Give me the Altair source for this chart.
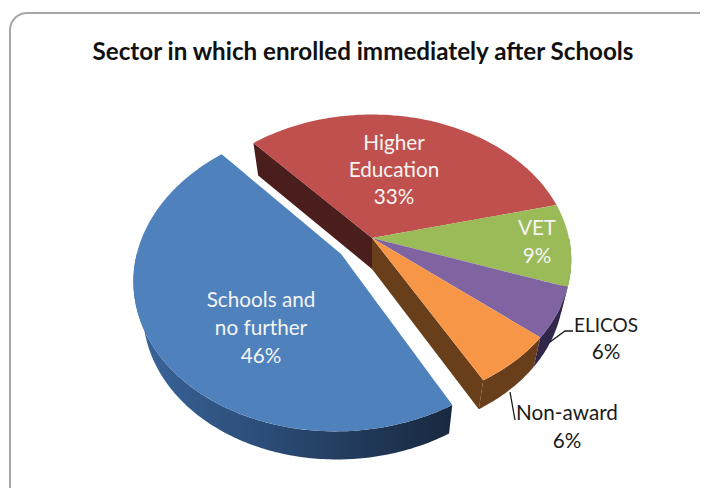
import math
import altair as alt
import pandas as pd

# ---- values
sectors = ["Higher Education", "VET", "ELICOS", "Non-award", "Schools and no further"]
shares = [32.8, 9.2, 5.6, 5.9, 46.5]
top_colors = ["#C0504D", "#9BBB59", "#8064A2", "#F79646", "#4F81BD"]
wall_colors = ["#4A1E1C", "#55682F", "#32274A", "#693E1A", "#2A4A73"]
start_angle = 228.0
exploded = "Schools and no further"
explode_by = 0.19
exploded_scale = 1.02

title_text = "Sector in which enrolled immediately after Schools"
inside_x = [394, 394, 394, 537, 537, 261, 261, 261]
inside_y = [144, 171, 198, 229, 257, 301, 329, 357]
inside_text = ["Higher", "Education", "33%", "VET", "9%", "Schools and", "no further", "46%"]
outside_x = [606, 567, 567]
outside_y = [353, 414, 442]
outside_text = ["6%", "Non-award", "6%"]
elicos_x = [606]
elicos_y = [326]
elicos_text = ["ELICOS"]
leader_elicos_x = [550, 565, 573]
leader_elicos_y = [342, 331, 331]
leader_award_x = [510, 515]
leader_award_y = [392, 420]

# ---- view geometry of the tilted disc
CX, CY, RX, RY, P = 372, 238, 197, 142, 0.15
DEPTH, SHRINK_X, SHRINK_Y = 31, 0.96, 0.985
W, H = 692, 480
xs = alt.Scale(domain=[8, 700], range=[0, W], nice=False, zero=False)
ys = alt.Scale(domain=[488, 8], range=[H, 0], nice=False, zero=False)


def project(u, v, lower=False):
    k = 1 - P * v
    sx, sy = RX * u / k, RY * v / k
    if lower:
        return CX + sx * SHRINK_X, CY + sy * SHRINK_Y + DEPTH
    return CX + sx, CY + sy


def plane(angle, off, scale):
    a = math.radians(angle)
    return off[0] + scale * math.cos(a), off[1] + scale * math.sin(a)


def arc(a0, a1, off, scale, lower=False):
    n = max(2, int(abs(a1 - a0) / 1.5) + 1)
    return [project(*plane(a0 + (a1 - a0) * i / n, off, scale), lower) for i in range(n + 1)]


def polygon(points, paint):
    """Fill a polygon as an area: one y..y2 span for each vertex x."""
    rows = []
    n = len(points)
    for x in sorted({round(p[0], 2) for p in points}):
        hits = []
        for i in range(n):
            (x0, y0), (x1, y1) = points[i], points[(i + 1) % n]
            x0, x1 = round(x0, 2), round(x1, 2)
            if min(x0, x1) <= x <= max(x0, x1):
                if x0 == x1:
                    hits += [y0, y1]
                else:
                    hits.append(y0 + (y1 - y0) * (x - x0) / (x1 - x0))
        rows.append({"x": x, "y": min(hits), "y2": max(hits)})
    return alt.Chart(pd.DataFrame(rows)).mark_area(color=paint, interpolate="linear").encode(
        x=alt.X("x:Q", scale=xs, axis=None),
        y=alt.Y("y:Q", scale=ys, axis=None),
        y2="y2:Q",
    )


# ---- wedge spans from the shares
spans = {}
a = start_angle
for name, share in zip(sectors, shares):
    spans[name] = (a, a + share * 3.6)
    a += share * 3.6


def offset(b0, b1):
    mid = math.radians((b0 + b1) / 2)
    return (explode_by * math.cos(mid), explode_by * math.sin(mid))


layers = []

# frame
corner = [(10 + 17 * (1 - math.cos(math.radians(t))), 13 + 17 * (1 - math.sin(math.radians(t)))) for t in range(0, 91, 10)]
frame = [(10, 488)] + corner + [(700, 13)]
frame_df = pd.DataFrame({"x": [p[0] for p in frame], "y": [p[1] for p in frame], "o": range(len(frame))})
layers.append(alt.Chart(frame_df).mark_line(color="#A6A6A6", strokeWidth=2).encode(
    x=alt.X("x:Q", scale=xs, axis=None), y=alt.Y("y:Q", scale=ys, axis=None), order="o:Q"))

# back cut face of Higher Education
he0 = spans["Higher Education"][0]
layers.append(polygon([project(0, 0), project(*plane(he0, (0, 0), 1)),
                       project(*plane(he0, (0, 0), 1), True), project(0, 0, True)], wall_colors[0]))

# outer walls on the right-hand side
for name, col in zip(sectors[1:4], wall_colors[1:4]):
    a0, a1 = spans[name]
    a0 = max(a0, 360)
    layers.append(polygon(arc(a0, a1, (0, 0), 1) + arc(a1, a0, (0, 0), 1, True), col))

# cut face of Non-award
na1 = spans["Non-award"][1]
layers.append(polygon([project(0, 0), project(*plane(na1, (0, 0), 1)),
                       project(*plane(na1, (0, 0), 1), True), project(0, 0, True)], wall_colors[3]))

# top faces of the four closed wedges
for name, col in zip(sectors[:4], top_colors[:4]):
    a0, a1 = spans[name]
    layers.append(polygon([project(0, 0)] + arc(a0, a1, (0, 0), 1), col))

# exploded wedge: wall, then top
b0, b1 = (v - 360 for v in spans[exploded])
off = offset(b0, b1)
wall_grad = alt.Gradient(gradient="linear", x1=0, x2=1, y1=0, y2=0,
                         stops=[alt.GradientStop(color="#3A659C", offset=0),
                                alt.GradientStop(color="#2A4A73", offset=0.45),
                                alt.GradientStop(color="#18283F", offset=1)])
layers.append(polygon(arc(b0, 180, off, exploded_scale) + arc(180, b0, off, exploded_scale, True), wall_grad))
layers.append(polygon([project(*off)] + arc(b0, b1, off, exploded_scale), top_colors[4]))


def texts(x, y, t, color, size, weight="normal"):
    df = pd.DataFrame({"x": x, "y": y, "t": t})
    return alt.Chart(df).mark_text(font="Lato", fontSize=size, fontWeight=weight, color=color,
                                   align="center", baseline="middle").encode(
        x=alt.X("x:Q", scale=xs, axis=None), y=alt.Y("y:Q", scale=ys, axis=None), text="t:N")


def leader(x, y):
    df = pd.DataFrame({"x": x, "y": y, "o": range(len(x))})
    return alt.Chart(df).mark_line(color="#1A1A1A", strokeWidth=1.3).encode(
        x=alt.X("x:Q", scale=xs, axis=None), y=alt.Y("y:Q", scale=ys, axis=None), order="o:Q")


layers += [leader(leader_elicos_x, leader_elicos_y), leader(leader_award_x, leader_award_y)]
layers.append(texts(inside_x, inside_y, inside_text, "#F4F4F4", 20.7))
layers.append(texts(outside_x, outside_y, outside_text, "#1A1A1A", 20.7))
layers.append(texts(elicos_x, elicos_y, elicos_text, "#1A1A1A", 19))
layers.append(texts([363], [53], [title_text], "#111111", 24.2, "bold"))

chart = alt.layer(*layers).properties(
    width=W, height=H, padding=0, autosize=alt.AutoSizeParams(type="none"), background="white"
).configure_view(stroke=None)

chart.save("out.html", embed_options={"renderer": "svg", "actions": False})
